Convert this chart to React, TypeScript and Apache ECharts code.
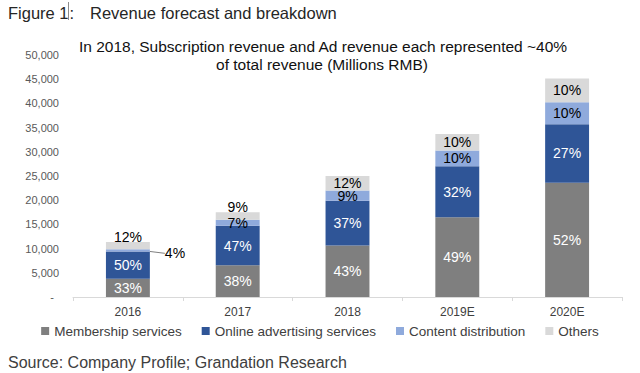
import React, { useEffect, useRef } from "react";
import * as echarts from "echarts";

const categories = ["2016", "2017", "2018", "2019E", "2020E"];
const membership = [3760, 6550, 10620, 16500, 23600];
const advertising = [5650, 8150, 9270, 10500, 12100];
const contentDist = [470, 1250, 2130, 3250, 4550];
const others = [1500, 1550, 2960, 3450, 4900];

const membershipPct = ["33%", "38%", "43%", "49%", "52%"];
const advertisingPct = ["50%", "47%", "37%", "32%", "27%"];
const contentPct = ["4%", "7%", "9%", "10%", "10%"];
const othersPct = ["12%", "9%", "12%", "10%", "10%"];

const yTicks = [0, 5000, 10000, 15000, 20000, 25000, 30000, 35000, 40000, 45000, 50000];

const FONT = '"Liberation Sans", Arial, sans-serif';

export default function App() {
  const ref = useRef<HTMLDivElement>(null);
  useEffect(() => {
    if (!ref.current) return;
    const chart = echarts.init(ref.current, undefined, { renderer: "svg" });

    const labelBase = { show: true, fontFamily: FONT, fontSize: 14 };

    const mk = (vals: number[], pcts: string[], textColor: string) =>
      vals.map((v, i) => ({ value: v, label: { ...labelBase, position: "inside", color: textColor, formatter: pcts[i] } }));

    const contentData = contentDist.map((v, i) =>
      i === 0
        ? {
            value: v,
            label: { ...labelBase, position: "right", distance: 4, color: "#000", formatter: contentPct[i] },
            labelLine: { show: true, lineStyle: { color: "#808080", width: 1 } },
          }
        : { value: v, label: { ...labelBase, position: "inside", color: "#000", formatter: contentPct[i] } }
    );

    const othersData = others.map((v, i) =>
      i < 2
        ? { value: v, label: { ...labelBase, position: "top", distance: -2, color: "#000", formatter: othersPct[i] } }
        : { value: v, label: { ...labelBase, position: "inside", color: "#000", formatter: othersPct[i] } }
    );

    const option: any = {
      animation: false,
      textStyle: { fontFamily: FONT },
      grid: { left: 73, right: 18, top: 55, bottom: 76, containLabel: false },
      xAxis: {
        type: "category",
        data: categories,
        axisLine: { lineStyle: { color: "#d9d9d9", width: 1 } },
        axisTick: { show: true, length: 4, lineStyle: { color: "#d9d9d9" } },
        axisLabel: { color: "#404040", fontSize: 12, margin: 9, fontFamily: FONT },
      },
      yAxis: {
        type: "value",
        min: yTicks[0],
        max: yTicks[yTicks.length - 1],
        interval: yTicks[1] - yTicks[0],
        axisLine: { show: false },
        axisTick: { show: false },
        splitLine: { show: false },
        axisLabel: {
          color: "#595959",
          fontSize: 11,
          margin: 14,
          fontFamily: FONT,
          formatter: (v: number) => (v === 0 ? "{d|-}" : v.toLocaleString("en-US")),
          rich: { d: { padding: [0, 5, 0, 0], color: "#595959", fontSize: 11 } },
        },
      },
      legend: {
        bottom: 30,
        left: "center",
        icon: "rect",
        itemWidth: 8,
        itemHeight: 8,
        itemGap: 20,
        textStyle: { color: "#404040", fontSize: 13.5, fontFamily: FONT },
        data: ["Membership services", "Online advertising services", "Content distribution", "Others"],
      },
      series: [
        {
          name: "Membership services",
          type: "bar",
          stack: "total",
          barWidth: "40%",
          itemStyle: { color: "#7f7f7f" },
          data: mk(membership, membershipPct, "#ffffff"),
        },
        {
          name: "Online advertising services",
          type: "bar",
          stack: "total",
          itemStyle: { color: "#2f5597" },
          data: mk(advertising, advertisingPct, "#ffffff"),
        },
        {
          name: "Content distribution",
          type: "bar",
          stack: "total",
          itemStyle: { color: "#8faadc" },
          data: contentData,
          labelLayout: (p: any) => (p.dataIndex === 0 ? { dx: 11, dy: 3 } : {}),
        },
        {
          name: "Others",
          type: "bar",
          stack: "total",
          itemStyle: { color: "#d9d9d9" },
          data: othersData,
        },
      ],
      graphic: [
        {
          type: "text",
          x: 8,
          y: 13,
          style: { text: "Figure 1", font: `16.5px ${FONT}`, fill: "#262626", textVerticalAlign: "middle", verticalAlign: "middle" },
        },
        { type: "rect", shape: { x: 68, y: 2, width: 1, height: 18 }, style: { fill: "#8c8c8c" } },
        {
          type: "text",
          x: 69.5,
          y: 13,
          style: { text: ":", font: `16.5px ${FONT}`, fill: "#262626", textVerticalAlign: "middle", verticalAlign: "middle" },
        },
        {
          type: "text",
          x: 90,
          y: 13,
          style: { text: "Revenue forecast and breakdown", font: `16.5px ${FONT}`, fill: "#262626", textVerticalAlign: "middle", verticalAlign: "middle" },
        },
        {
          type: "text",
          x: 323,
          y: 46,
          style: {
            text: "In 2018, Subscription revenue and Ad revenue each represented ~40%",
            font: `15.5px ${FONT}`,
            fill: "#111",
            textAlign: "center",
            align: "center",
            textVerticalAlign: "middle",
            verticalAlign: "middle",
          },
        },
        {
          type: "text",
          x: 322,
          y: 64,
          style: {
            text: "of total revenue (Millions RMB)",
            font: `15.5px ${FONT}`,
            fill: "#111",
            textAlign: "center",
            align: "center",
            textVerticalAlign: "middle",
            verticalAlign: "middle",
          },
        },
        {
          type: "text",
          x: 8,
          y: 362,
          style: { text: "Source: Company Profile; Grandation Research", font: `16px ${FONT}`, fill: "#404040", textVerticalAlign: "middle", verticalAlign: "middle" },
        },
      ],
    };
    chart.setOption(option);
    return () => chart.dispose();
  }, []);

  return <div ref={ref} style={{ position: "fixed", left: 0, top: 0, width: 640, height: 373, background: "#fff" }} />;
}
